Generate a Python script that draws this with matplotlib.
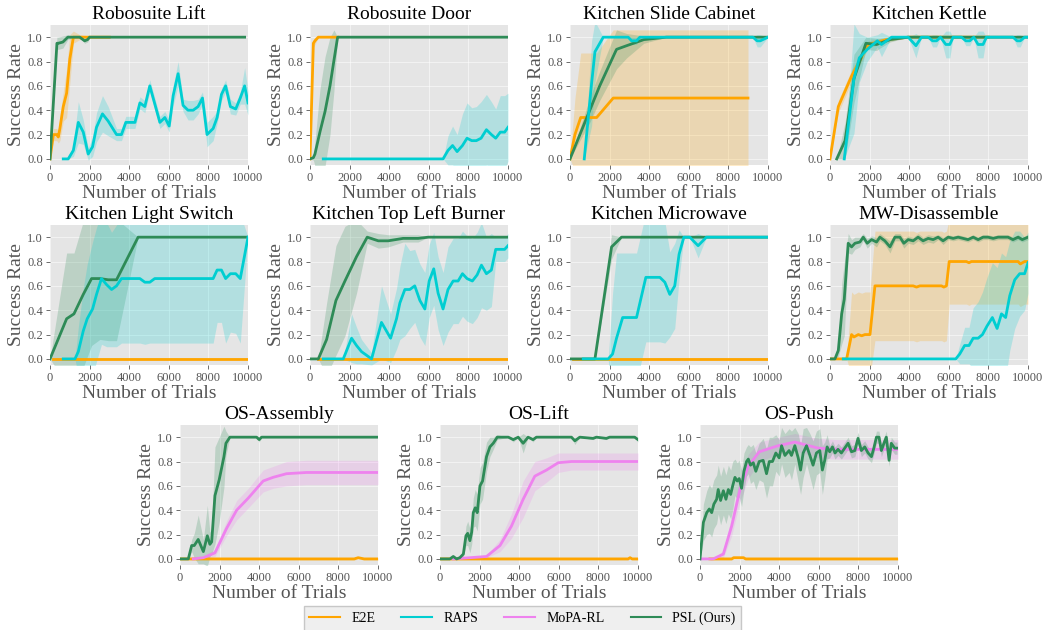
import matplotlib
matplotlib.use("Agg")
import matplotlib.pyplot as plt

plt.rcParams['font.family'] = ['Liberation Serif', 'DejaVu Serif']

# ---------------- data ----------------
titles = ["Robosuite Lift", "Robosuite Door", "Kitchen Slide Cabinet", "Kitchen Kettle",
          "Kitchen Light Switch", "Kitchen Top Left Burner", "Kitchen Microwave", "MW-Disassemble",
          "OS-Assembly", "OS-Lift", "OS-Push"]
methods = ["E2E", "RAPS", "MoPA-RL", "PSL (Ours)"]

# Robosuite Lift
lift_e2e_x = [0, 170, 340, 420, 500, 670, 840, 1000, 1180, 1500, 2000, 2500, 3000]
lift_e2e_y = [0.0, 0.2, 0.2, 0.18, 0.25, 0.43, 0.54, 0.82, 1.0, 1.0, 1.0, 1.0, 1.0]
lift_e2e_sd = [0.0, 0.05, 0.05, 0.05, 0.1, 0.12, 0.2, 0.2, 0.05, 0.02, 0.01, 0.01, 0.01]
lift_raps_x = [670, 920, 1180, 1430, 1680, 1930, 2150, 2350, 2650, 2940, 3360, 3610, 3830, 4290, 4540,
               4790, 5040, 5550, 5800, 6020, 6220, 6470, 6720, 6970, 7230, 7480, 7700, 7930, 8240, 8440,
               8660, 8870, 9110, 9380, 9610, 9830, 10000]
lift_raps_y = [0.0, 0.0, 0.07, 0.3, 0.22, 0.04, 0.1, 0.26, 0.37, 0.31, 0.2, 0.2, 0.3, 0.3, 0.46,
               0.43, 0.6, 0.3, 0.34, 0.27, 0.52, 0.7, 0.44, 0.4, 0.4, 0.43, 0.5, 0.2, 0.25, 0.34,
               0.53, 0.6, 0.43, 0.41, 0.5, 0.6, 0.46]
lift_raps_sd = [0.0, 0.0, 0.05, 0.17, 0.1, 0.05, 0.08, 0.12, 0.15, 0.12, 0.05, 0.05, 0.05, 0.05, 0.05,
                0.05, 0.05, 0.05, 0.05, 0.05, 0.08, 0.1, 0.05, 0.08, 0.08, 0.06, 0.05, 0.1, 0.1, 0.05,
                0.05, 0.05, 0.06, 0.05, 0.05, 0.15, 0.1]
lift_psl_x = [0, 350, 420, 650, 900, 1200, 1500, 1750, 1900, 2000, 3000, 6000, 9830]
lift_psl_y = [0.0, 0.95, 0.95, 0.96, 1.0, 1.0, 1.0, 0.97, 0.98, 1.0, 1.0, 1.0, 1.0]
lift_psl_sd = [0.0, 0.05, 0.05, 0.05, 0.02, 0.0, 0.0, 0.02, 0.02, 0.0, 0.0, 0.0, 0.0]

# Robosuite Door
door_e2e_x = [0, 170, 250, 420, 800, 1400]
door_e2e_y = [0.0, 0.95, 0.97, 1.0, 1.0, 1.0]
door_e2e_sd = [0.0, 0.03, 0.03, 0.0, 0.0, 0.0]
door_raps_x = [670, 1500, 3000, 4500, 6000, 6720, 6970, 7200, 7430, 7700, 7930, 8170, 8400, 8640,
               8910, 9160, 9380, 9610, 9830, 10000]
door_raps_y = [0, 0, 0, 0, 0, 0, 0.07, 0.11, 0.06, 0.11, 0.17, 0.15, 0.15, 0.17,
               0.24, 0.2, 0.17, 0.22, 0.22, 0.26]
door_raps_sd = [0, 0, 0, 0, 0, 0, 0.12, 0.16, 0.14, 0.26, 0.29, 0.27, 0.28, 0.3,
                0.29, 0.27, 0.24, 0.3, 0.3, 0.28]
door_psl_x = [0, 170, 250, 500, 760, 1010, 1210, 1395, 3000, 6000, 10000]
door_psl_y = [0.0, 0.01, 0.04, 0.22, 0.39, 0.6, 0.81, 1.0, 1.0, 1.0, 1.0]
door_psl_sd = [0.0, 0.02, 0.1, 0.35, 0.45, 0.4, 0.25, 0.0, 0.0, 0.0, 0.0]

# Kitchen Slide Cabinet
cab_e2e_x = [0, 250, 540, 1345, 2185, 5000, 8990]
cab_e2e_y = [0.0, 0.2, 0.34, 0.34, 0.5, 0.5, 0.5]
cab_e2e_sd = [0.0, 0.3, 0.53, 0.53, 0.56, 0.56, 0.56]
cab_raps_x = [720, 1090, 1260, 1680, 2940, 3110, 3360, 3530, 6000, 9240, 9450, 9610, 10000]
cab_raps_y = [0.0, 0.62, 0.88, 1.0, 1.0, 0.97, 0.97, 1.0, 1.0, 1.0, 0.97, 0.97, 1.0]
cab_raps_sd = [0.0, 0.35, 0.25, 0.0, 0.0, 0.03, 0.03, 0.0, 0.0, 0.0, 0.05, 0.05, 0.0]
cab_psl_x = [0, 500, 1000, 1500, 2350, 2860, 3730, 4870, 10000]
cab_psl_y = [0.0, 0.2, 0.4, 0.6, 0.9, 0.93, 0.98, 1.0, 1.0]
cab_psl_sd = [0.0, 0.05, 0.1, 0.12, 0.16, 0.1, 0.03, 0.0, 0.0]

# Kitchen Kettle
ket_e2e_x = [0, 420, 1090, 1930, 2860, 3950, 6000, 8000]
ket_e2e_y = [0.0, 0.43, 0.68, 0.94, 0.98, 1.0, 1.0, 1.0]
ket_e2e_sd = [0.0, 0.05, 0.05, 0.03, 0.02, 0.0, 0.0, 0.0]
ket_raps_x = [720, 1210, 1480, 1880, 2390, 2600, 3110, 3950, 4340, 4620, 4960, 5180, 5380, 5580,
              5850, 6050, 6220, 6640, 6860, 7060, 7260, 7480, 7730, 7900, 9240, 9450, 9610, 9830, 10000]
ket_raps_y = [0.0, 0.66, 0.83, 0.9, 0.97, 0.94, 1.0, 1.0, 0.93, 1.0, 1.0, 0.97, 0.97, 1.0,
              0.94, 0.94, 1.0, 1.0, 0.97, 0.97, 1.0, 0.94, 0.94, 1.0, 1.0, 0.97, 0.97, 1.0, 1.0]
ket_raps_sd = [0.0, 0.45, 0.2, 0.1, 0.05, 0.1, 0.0, 0.0, 0.1, 0.0, 0.0, 0.05, 0.05, 0.0,
               0.11, 0.11, 0.0, 0.0, 0.04, 0.04, 0.0, 0.11, 0.11, 0.0, 0.0, 0.05, 0.05, 0.0, 0.0]
ket_psl_x = [340, 760, 1210, 1815, 2350, 2520, 3030, 3950, 10000]
ket_psl_y = [0.0, 0.15, 0.66, 0.95, 0.94, 0.95, 0.98, 1.0, 1.0]
ket_psl_sd = [0.0, 0.15, 0.2, 0.05, 0.05, 0.04, 0.02, 0.0, 0.0]

# Kitchen Light Switch
light_e2e_x = [170, 5000, 10000]
light_e2e_y = [0.0, 0.0, 0.0]
light_e2e_sd = [0.005, 0.005, 0.005]
light_raps_x = [670, 1260, 1430, 1680, 1880, 2150, 2350, 2600, 2860, 3110, 3360, 3610, 4540, 4790,
                5040, 5290, 8240, 8440, 8660, 8870, 9110, 9380, 9610, 10000]
light_raps_y = [0.0, 0.0, 0.06, 0.23, 0.33, 0.41, 0.53, 0.66, 0.61, 0.57, 0.6, 0.66, 0.66, 0.63,
                0.63, 0.66, 0.66, 0.73, 0.73, 0.66, 0.7, 0.7, 0.66, 1.0]
light_raps_sd = [0.0, 0.0, 0.2, 0.35, 0.45, 0.55, 0.55, 0.54, 0.51, 0.47, 0.5, 0.53, 0.53, 0.51,
                 0.5, 0.53, 0.53, 0.43, 0.43, 0.53, 0.48, 0.49, 0.53, 0.0]
light_psl_x = [0, 840, 1210, 1680, 2100, 2520, 2940, 3360, 4450, 10000]
light_psl_y = [0.0, 0.33, 0.37, 0.53, 0.66, 0.66, 0.65, 0.65, 1.0, 1.0]
light_psl_sd = [0.0, 0.54, 0.5, 0.6, 0.55, 0.5, 0.5, 0.5, 0.0, 0.0]

# Kitchen Top Left Burner
burn_e2e_x = [420, 5000, 10000]
burn_e2e_y = [0.0, 0.0, 0.0]
burn_e2e_sd = [0.005, 0.005, 0.005]
burn_raps_x = [670, 1680, 2100, 2350, 2600, 3110, 3610, 4070, 4370, 4540, 4790, 5040, 5290, 5550,
               5800, 6020, 6250, 6470, 6720, 6970, 7230, 7480, 7700, 7930, 8200, 8440, 8660, 8910,
               9160, 9380, 9830, 10000]
burn_raps_y = [0.0, 0.0, 0.17, 0.11, 0.06, 0.0, 0.3, 0.17, 0.33, 0.46, 0.57, 0.57, 0.6, 0.48,
               0.41, 0.64, 0.74, 0.54, 0.41, 0.57, 0.64, 0.64, 0.7, 0.66, 0.64, 0.69, 0.77, 0.7,
               0.73, 0.9, 0.9, 0.93]
burn_raps_sd = [0.0, 0.0, 0.2, 0.15, 0.1, 0.05, 0.3, 0.2, 0.25, 0.3, 0.38, 0.32, 0.3, 0.3,
                0.3, 0.3, 0.3, 0.3, 0.3, 0.35, 0.35, 0.35, 0.35, 0.35, 0.35, 0.35, 0.35, 0.3,
                0.3, 0.1, 0.1, 0.1]
burn_psl_x = [0, 420, 840, 1310, 1765, 2350, 2890, 3450, 3950, 4700, 5460, 5970, 10000]
burn_psl_y = [0.0, 0.0, 0.16, 0.48, 0.64, 0.84, 1.0, 0.97, 0.97, 0.99, 0.99, 1.0, 1.0]
burn_psl_sd = [0.0, 0.0, 0.3, 0.45, 0.45, 0.3, 0.05, 0.06, 0.05, 0.03, 0.03, 0.0, 0.0]

# Kitchen Microwave
mic_e2e_x = [170, 5000, 10000]
mic_e2e_y = [0.0, 0.0, 0.0]
mic_e2e_sd = [0.005, 0.005, 0.005]
mic_raps_x = [670, 1930, 2150, 2350, 2660, 3360, 3830, 4540, 4790, 5040, 5290, 5510, 5750, 6050,
              6470, 6890, 10000]
mic_raps_y = [0.0, 0.0, 0.04, 0.17, 0.34, 0.34, 0.67, 0.67, 0.63, 0.53, 0.6, 0.86, 1.0, 1.0,
              0.93, 1.0, 1.0]
mic_raps_sd = [0.0, 0.0, 0.5, 0.7, 0.53, 0.53, 0.53, 0.53, 0.5, 0.35, 0.35, 0.2, 0.0, 0.0,
               0.1, 0.0, 0.0]
mic_psl_x = [0, 1260, 2100, 2600, 10000]
mic_psl_y = [0.0, 0.0, 0.92, 1.0, 1.0]
mic_psl_sd = [0.0, 0.0, 0.1, 0.0, 0.0]

# MW-Disassemble
dis_e2e_x = [0, 840, 1090, 1210, 1430, 1600, 1765, 2020, 2270, 4200, 4370, 4540, 5630, 5750, 5880,
             6020, 6890, 7020, 7140, 9500, 9610, 9830, 10000]
dis_e2e_y = [0.0, 0.0, 0.2, 0.18, 0.2, 0.19, 0.2, 0.2, 0.6, 0.6, 0.59, 0.6, 0.6, 0.59, 0.6,
             0.8, 0.8, 0.79, 0.8, 0.8, 0.78, 0.8, 0.8]
dis_e2e_sd = [0.0, 0.0, 0.35, 0.35, 0.35, 0.35, 0.35, 0.35, 0.45, 0.45, 0.45, 0.45, 0.45, 0.45, 0.45,
              0.35, 0.35, 0.35, 0.35, 0.35, 0.35, 0.35, 0.35]
dis_raps_x = [670, 6350, 6550, 6800, 7020, 7230, 7480, 7700, 7930, 8200, 8440, 8660, 8870, 9080,
              9330, 9580, 9830, 10000]
dis_raps_y = [0.0, 0.0, 0.04, 0.11, 0.11, 0.17, 0.17, 0.2, 0.27, 0.34, 0.25, 0.37, 0.34, 0.52,
              0.65, 0.7, 0.7, 0.79]
dis_raps_sd = [0.0, 0.0, 0.08, 0.15, 0.15, 0.25, 0.3, 0.35, 0.4, 0.45, 0.5, 0.5, 0.5, 0.45,
               0.4, 0.35, 0.3, 0.25]
dis_psl_x = [0, 250, 420, 590, 720, 920, 1090, 1260, 1510, 1680, 1880, 2100, 2350, 2520, 2770,
             3030, 3280, 3530, 3730, 3950, 4200, 4450, 4700, 4960, 5210, 5460, 5710, 5970, 6220,
             6470, 6720, 6970, 7230, 7480, 7730, 7980, 8240, 8490, 8740, 8990, 9240, 9500, 9710,
             10000]
dis_psl_y = [0.0, 0.0, 0.07, 0.37, 0.49, 0.95, 0.92, 0.95, 0.96, 1.0, 0.95, 0.98, 0.96, 1.0, 0.97,
             0.92, 1.0, 1.0, 0.95, 0.98, 0.97, 1.0, 0.97, 0.99, 0.98, 1.0, 0.97, 1.0, 0.99,
             1.0, 0.99, 0.98, 1.0, 0.98, 1.0, 1.0, 0.99, 1.0, 1.0, 1.0, 0.98, 1.0, 0.98,
             1.0]
dis_psl_sd = [0.0, 0.0, 0.05, 0.25, 0.3, 0.08, 0.06, 0.05, 0.04, 0.03, 0.04, 0.03, 0.04, 0.03, 0.03,
              0.05, 0.03, 0.03, 0.04, 0.03, 0.03, 0.03, 0.03, 0.03, 0.03, 0.02, 0.03, 0.02, 0.02,
              0.02, 0.02, 0.02, 0.02, 0.02, 0.02, 0.02, 0.02, 0.02, 0.02, 0.02, 0.02, 0.02, 0.02,
              0.02]

# OS-Assembly
asm_e2e_x = [0, 4000, 8800, 9000, 9300, 10000]
asm_e2e_y = [0.0, 0.0, 0.0, 0.01, 0.0, 0.0]
asm_e2e_sd = [0.01, 0.01, 0.01, 0.01, 0.01, 0.01]
asm_mopa_x = [670, 1180, 1765, 2350, 2860, 3450, 4200, 4700, 5380, 6390, 10000]
asm_mopa_y = [0.0, 0.01, 0.05, 0.25, 0.4, 0.5, 0.64, 0.67, 0.7, 0.71, 0.71]
asm_mopa_sd = [0.0, 0.01, 0.03, 0.06, 0.08, 0.08, 0.09, 0.09, 0.1, 0.1, 0.1]
asm_psl_x = [0, 420, 590, 720, 920, 1180, 1380, 1510, 1600, 1765, 1980, 2220, 2320, 2520, 3870,
             4000, 4120, 10000]
asm_psl_y = [0.0, 0.0, 0.11, 0.11, 0.16, 0.06, 0.19, 0.12, 0.14, 0.52, 0.65, 0.84, 0.95, 1.0, 1.0,
             0.98, 1.0, 1.0]
asm_psl_sd = [0.0, 0.0, 0.05, 0.1, 0.2, 0.1, 0.25, 0.1, 0.1, 0.4, 0.35, 0.25, 0.1, 0.0, 0.0,
              0.02, 0.0, 0.0]

# OS-Lift
olift_e2e_x = [0, 5000, 9500, 9600, 9700, 10000]
olift_e2e_y = [0.0, 0.0, 0.0, 0.01, 0.0, 0.0]
olift_e2e_sd = [0.01, 0.01, 0.01, 0.01, 0.01, 0.01]
olift_mopa_x = [670, 2350, 3030, 3610, 4200, 4790, 5380, 5970, 6640, 10000]
olift_mopa_y = [0.0, 0.02, 0.11, 0.27, 0.49, 0.68, 0.73, 0.79, 0.8, 0.8]
olift_mopa_sd = [0.0, 0.01, 0.05, 0.1, 0.15, 0.12, 0.1, 0.08, 0.07, 0.07]
olift_psl_x = [0, 500, 670, 840, 1000, 1180, 1310, 1400, 1510, 1600, 1680, 1780, 1880, 2020, 2150,
               2350, 2520, 2690, 2890, 3450, 3700, 3950, 4200, 4450, 4700, 4870, 6640, 6810, 7060,
               7730, 7900, 8400, 8570, 9830, 10000]
olift_psl_y = [0.0, 0.0, 0.02, 0.0, 0.01, 0.04, 0.19, 0.21, 0.15, 0.22, 0.38, 0.42, 0.38, 0.6, 0.64,
               0.84, 0.92, 0.95, 1.0, 1.0, 0.98, 1.0, 0.95, 1.0, 0.98, 1.0, 1.0, 0.97, 1.0,
               0.99, 1.0, 0.99, 1.0, 1.0, 0.98]
olift_psl_sd = [0.0, 0.0, 0.01, 0.0, 0.01, 0.02, 0.08, 0.1, 0.1, 0.1, 0.12, 0.15, 0.15, 0.15, 0.15,
                0.12, 0.08, 0.05, 0.02, 0.0, 0.02, 0.0, 0.08, 0.0, 0.02, 0.0, 0.0, 0.03, 0.0,
                0.01, 0.0, 0.01, 0.0, 0.0, 0.02]

# OS-Push
push_e2e_x = [500, 1600, 1700, 2200, 2300, 10000]
push_e2e_y = [0.0, 0.0, 0.01, 0.01, 0.0, 0.0]
push_e2e_sd = [0.01, 0.01, 0.01, 0.01, 0.01, 0.01]
push_mopa_x = [0, 670, 1180, 1600, 2020, 2440, 2990, 3950, 4790, 5970, 6890, 10000]
push_mopa_y = [0.0, 0.0, 0.04, 0.27, 0.57, 0.76, 0.88, 0.93, 0.96, 0.91, 0.9, 0.9]
push_mopa_sd = [0.0, 0.0, 0.03, 0.08, 0.1, 0.1, 0.08, 0.07, 0.07, 0.08, 0.08, 0.08]
push_psl_x = [0, 170, 340, 470, 590, 700, 840, 920, 1040, 1180, 1310, 1430, 1550, 1650, 1765, 1880,
              1980, 2100, 2220, 2350, 2440, 2550, 2690, 2820, 2990, 3190, 3360, 3500, 3660, 3830,
              4000, 4120, 4290, 4500, 4620, 4790, 4960, 5080, 5210, 5380, 5550, 5710, 5880, 6050,
              6180, 6300, 6420, 6550, 6690, 6820, 6970, 7140, 7310, 7480, 7650, 7820, 7980, 8150,
              8320, 8490, 8660, 8780, 8910, 9040, 9160, 9290, 9410, 9550, 9660, 9830, 9950]
push_psl_y = [0.0, 0.3, 0.38, 0.41, 0.38, 0.45, 0.49, 0.57, 0.48, 0.56, 0.49, 0.57, 0.53, 0.6, 0.67,
              0.64, 0.66, 0.58, 0.72, 0.8, 0.82, 0.77, 0.79, 0.72, 0.8, 0.81, 0.7, 0.8, 0.8, 0.87,
              0.83, 0.93, 0.85, 0.89, 0.85, 0.93, 0.83, 0.73, 0.87, 0.93, 0.85, 0.77, 0.87, 0.89,
              0.73, 0.81, 0.92, 0.88, 0.92, 0.87, 0.9, 0.87, 0.91, 0.95, 0.88, 0.89, 0.99, 0.89,
              0.92, 0.87, 0.84, 0.91, 1.0, 1.0, 0.89, 0.95, 1.0, 0.81, 0.95, 0.91, 0.91]
push_psl_sd = [0.0, 0.15, 0.18, 0.2, 0.2, 0.2, 0.2, 0.2, 0.2, 0.2, 0.2, 0.2, 0.2, 0.2, 0.15,
               0.15, 0.15, 0.15, 0.15, 0.12, 0.12, 0.15, 0.15, 0.15, 0.15, 0.18, 0.2, 0.2, 0.2, 0.15,
               0.15, 0.15, 0.18, 0.18, 0.2, 0.15, 0.2, 0.2, 0.2, 0.15, 0.18, 0.2, 0.18, 0.18,
               0.2, 0.15, 0.1, 0.05, 0.05, 0.05, 0.05, 0.05, 0.05, 0.05, 0.05, 0.05, 0.05, 0.05,
               0.05, 0.05, 0.05, 0.05, 0.05, 0.05, 0.05, 0.05, 0.05, 0.05, 0.05, 0.05, 0.05]

colors = {"E2E": "#FFA500", "RAPS": "#00CED1", "MoPA-RL": "#EE82EE", "PSL (Ours)": "#2E8B57"}
zorders = {"E2E": 2, "MoPA-RL": 3, "PSL (Ours)": 4, "RAPS": 5}

panels = [
    {"E2E": (lift_e2e_x, lift_e2e_y, lift_e2e_sd), "RAPS": (lift_raps_x, lift_raps_y, lift_raps_sd),
     "PSL (Ours)": (lift_psl_x, lift_psl_y, lift_psl_sd)},
    {"E2E": (door_e2e_x, door_e2e_y, door_e2e_sd), "RAPS": (door_raps_x, door_raps_y, door_raps_sd),
     "PSL (Ours)": (door_psl_x, door_psl_y, door_psl_sd)},
    {"E2E": (cab_e2e_x, cab_e2e_y, cab_e2e_sd), "RAPS": (cab_raps_x, cab_raps_y, cab_raps_sd),
     "PSL (Ours)": (cab_psl_x, cab_psl_y, cab_psl_sd)},
    {"E2E": (ket_e2e_x, ket_e2e_y, ket_e2e_sd), "RAPS": (ket_raps_x, ket_raps_y, ket_raps_sd),
     "PSL (Ours)": (ket_psl_x, ket_psl_y, ket_psl_sd)},
    {"E2E": (light_e2e_x, light_e2e_y, light_e2e_sd), "RAPS": (light_raps_x, light_raps_y, light_raps_sd),
     "PSL (Ours)": (light_psl_x, light_psl_y, light_psl_sd)},
    {"E2E": (burn_e2e_x, burn_e2e_y, burn_e2e_sd), "RAPS": (burn_raps_x, burn_raps_y, burn_raps_sd),
     "PSL (Ours)": (burn_psl_x, burn_psl_y, burn_psl_sd)},
    {"E2E": (mic_e2e_x, mic_e2e_y, mic_e2e_sd), "RAPS": (mic_raps_x, mic_raps_y, mic_raps_sd),
     "PSL (Ours)": (mic_psl_x, mic_psl_y, mic_psl_sd)},
    {"E2E": (dis_e2e_x, dis_e2e_y, dis_e2e_sd), "RAPS": (dis_raps_x, dis_raps_y, dis_raps_sd),
     "PSL (Ours)": (dis_psl_x, dis_psl_y, dis_psl_sd)},
    {"E2E": (asm_e2e_x, asm_e2e_y, asm_e2e_sd), "MoPA-RL": (asm_mopa_x, asm_mopa_y, asm_mopa_sd),
     "PSL (Ours)": (asm_psl_x, asm_psl_y, asm_psl_sd)},
    {"E2E": (olift_e2e_x, olift_e2e_y, olift_e2e_sd), "MoPA-RL": (olift_mopa_x, olift_mopa_y, olift_mopa_sd),
     "PSL (Ours)": (olift_psl_x, olift_psl_y, olift_psl_sd)},
    {"E2E": (push_e2e_x, push_e2e_y, push_e2e_sd), "MoPA-RL": (push_mopa_x, push_mopa_y, push_mopa_sd),
     "PSL (Ours)": (push_psl_x, push_psl_y, push_psl_sd)},
]

# ---------------- layout ----------------
W, H = 1045, 630
fig = plt.figure(figsize=(W / 100, H / 100), dpi=100)

lefts = [50, 310, 570, 830, 50, 310, 570, 830, 180, 440, 700]
tops = [25, 25, 25, 25, 225, 225, 225, 225, 425, 425, 425]
aw, ah = 198, 140

for i, data in enumerate(panels):
    ax = fig.add_axes([lefts[i] / W, 1 - (tops[i] + ah) / H, aw / W, ah / H])
    ax.set_facecolor("#E5E5E5")
    for s in ax.spines.values():
        s.set_visible(False)
    ax.grid(True, color="white", lw=0.8, alpha=0.5)
    ax.set_axisbelow(True)
    for m in methods:
        if m not in data:
            continue
        x, y, sd = data[m]
        lo = [a - b for a, b in zip(y, sd)]
        hi = [a + b for a, b in zip(y, sd)]
        ax.fill_between(x, lo, hi, color=colors[m], alpha=0.22, lw=0, zorder=zorders[m] - 1)
        ax.plot(x, y, color=colors[m], lw=2, zorder=zorders[m] + 5)
    ax.set_xlim(0, 10000)
    ax.set_ylim(-0.05, 1.1)
    ax.set_xticks([0, 2000, 4000, 6000, 8000, 10000])
    ax.set_yticks([0.0, 0.2, 0.4, 0.6, 0.8, 1.0])
    ax.set_yticklabels(["0.0", "0.2", "0.4", "0.6", "0.8", "1.0"])
    ax.tick_params(labelsize=9, colors="#555555", length=3, width=0.6, pad=2)
    ax.set_title(titles[i], fontsize=14, pad=4)
    ax.set_xlabel("Number of Trials", fontsize=14, color="#555555", labelpad=1)
    ax.set_ylabel("Success Rate", fontsize=14, color="#555555", labelpad=2)

handles = [plt.Line2D([], [], color=colors[m], lw=1.5) for m in methods]
leg = fig.legend(handles, methods, loc="lower center", bbox_to_anchor=(0.5, -0.012), ncol=4,
                 fontsize=10, frameon=True, fancybox=False, handlelength=2.2, columnspacing=1.9,
                 borderpad=0.4)
leg.get_frame().set_facecolor("#EBEBEB")
leg.get_frame().set_edgecolor("#BBBBBB")

fig.savefig("out.png", dpi=100)
